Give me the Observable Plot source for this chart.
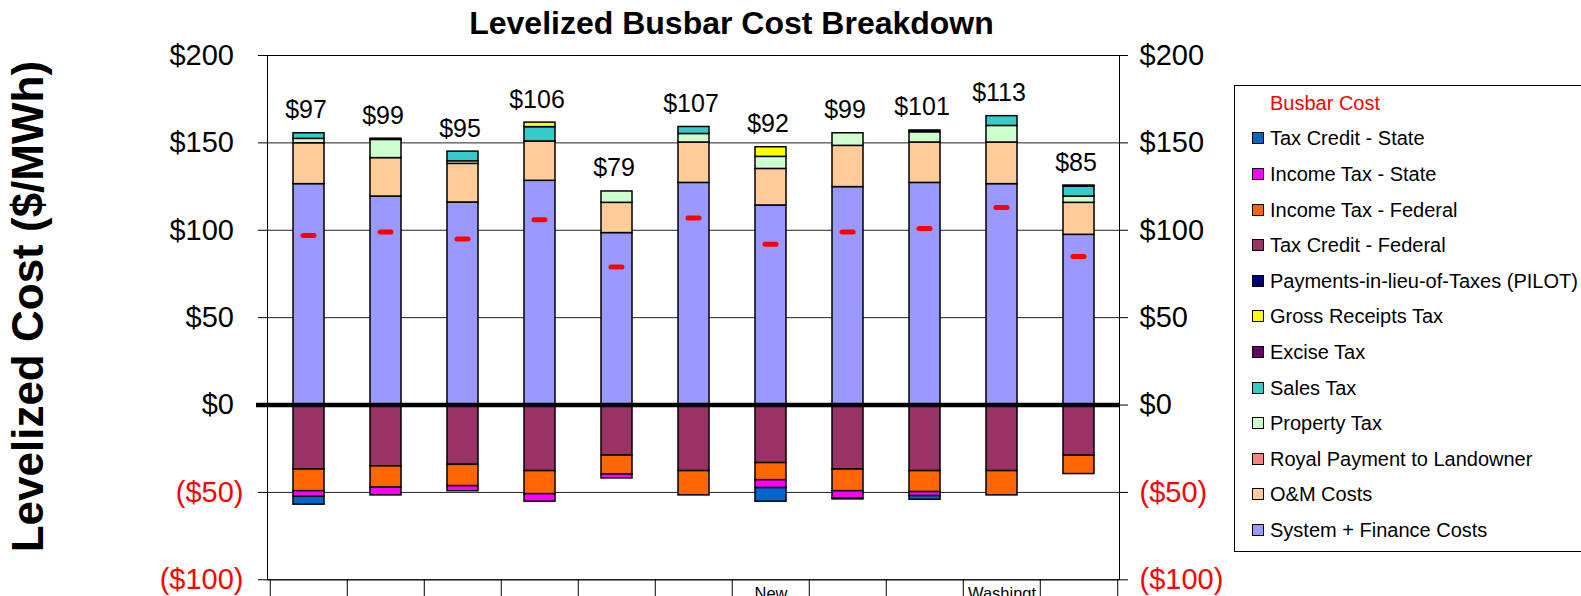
<!DOCTYPE html>
<html>
<head>
<meta charset="utf-8">
<script src="https://cdn.jsdelivr.net/npm/d3@7"></script>
<script src="https://cdn.jsdelivr.net/npm/@observablehq/plot@0.6"></script>
<style>
  html, body { margin: 0; padding: 0; background: #fff; overflow: hidden; }
  body { font-family: "Liberation Sans", Arial, sans-serif; }
  #wrap { position: relative; width: 1581px; height: 596px; overflow: hidden; }
  #legend { position: absolute; left: 1234px; top: 85px; width: 420px; height: 467px;
            border: 1px solid #000; box-sizing: border-box; background: #fff; }
  .row { position: absolute; left: 0; height: 22px; line-height: 22px; font-size: 20px; color: #000; white-space: nowrap; }
  .sw { position: absolute; left: 17px; top: 5px; width: 10px; height: 10px; border: 1px solid #000; }
  .lbl { position: absolute; left: 35px; top: 0; }
</style>
</head>
<body>
<div id="wrap"><div id="chart"></div><div id="legend"></div></div>
<script>
// ---------- data ----------
const categories = ["California", "Colorado", "Iowa", "Kansas", "Minnesota", "Nevada",
                    "New Mexico", "Oklahoma", "Oregon", "Washington", "Wyoming"];
const tickLabels = ["California", "Colorado", "Iowa", "Kansas", "Minnesota", "Nevada",
                    "New\nMexico", "Oklahoma", "Oregon", "Washingt\non", "Wyoming"];
const busbarCost = [97, 99, 95, 106, 79, 107, 92, 99, 101, 113, 85];

const systemFinance    = [126.4, 119.3, 115.9, 128.3, 98.4, 127.1, 114.2, 124.7, 127.1, 126.4, 97.4];
const omCosts          = [23.4, 22.0, 22.1, 22.5, 17.3, 23.1, 20.9, 23.6, 23.1, 23.8, 18.3];
const royalPayment     = [0, 0, 0, 0, 0, 0, 0, 0, 0, 0, 0];
const propertyTax      = [2.5, 10.4, 1.5, 0, 6.5, 4.9, 6.9, 7.2, 5.9, 9.5, 3.6];
const salesTax         = [3.2, 0, 5.5, 8.2, 0, 4.0, 0, 0, 0, 5.6, 5.6];
const exciseTax        = [0, 0, 0, 0, 0, 0, 0, 0, 0, 0, 0];
const grossReceiptsTax = [0, 0, 0, 2.6, 0, 0, 5.5, 0, 0, 0, 0];
const pilot            = [0, 0.7, 0, 0, 0, 0, 0, 0, 1.0, 0, 0.7];
const taxCreditFederal = [-36.9, -35.1, -34.2, -37.8, -28.9, -37.8, -33.2, -36.9, -37.8, -37.8, -29.0];
const incomeTaxFederal = [-12.4, -12.2, -12.2, -13.2, -10.8, -13.9, -9.8, -12.4, -12.0, -13.9, -10.5];
const incomeTaxState   = [-3.2, -4.4, -2.9, -4.3, -2.3, 0, -4.5, -4.1, -2.3, 0, 0];
const taxCreditState   = [-4.5, 0, 0, 0, 0, 0, -7.8, -0.6, -2.1, 0, 0];

// stacking order (bottom to top / zero outward)
const seriesNames = ["System + Finance Costs", "O&M Costs", "Royal Payment to Landowner", "Property Tax",
  "Sales Tax", "Excise Tax", "Gross Receipts Tax", "Payments-in-lieu-of-Taxes (PILOT)",
  "Tax Credit - Federal", "Income Tax - Federal", "Income Tax - State", "Tax Credit - State"];
const seriesColors = ["#9999FF", "#FFCC99", "#FF8080", "#CCFFCC", "#33CCCC", "#660066", "#FFFF00", "#000080",
  "#993366", "#FF6600", "#FF00FF", "#0066CC"];
const seriesValues = [systemFinance, omCosts, royalPayment, propertyTax, salesTax, exciseTax,
  grossReceiptsTax, pilot, taxCreditFederal, incomeTaxFederal, incomeTaxState, taxCreditState];

const posTicks = [0, 50, 100, 150, 200];
const negTicks = [-50, -100];

// ---------- build ----------
const rows = [];
seriesNames.forEach((s, k) => {
  categories.forEach((c, i) => {
    const v = seriesValues[k][i];
    if (v !== 0) rows.push({category: c, series: s, value: v, color: seriesColors[k]});
  });
});
const posTotal = categories.map((c, i) => d3.sum(seriesValues, arr => Math.max(0, arr[i])));

const W = 1581, H = 596, ML = 267, MR = 462, MT = 55, MB = 596 - 579.3;
const step = (W - ML - MR) / categories.length;
const font = "'Liberation Sans', Arial, sans-serif";
const fmt = d => d < 0 ? `($${-d})` : `$${d}`;

const chart = Plot.plot({
  width: W, height: H,
  marginLeft: ML, marginRight: MR, marginTop: MT, marginBottom: MB,
  style: {fontFamily: font, background: "white", color: "#000"},
  x: {domain: categories, paddingInner: 0.6, paddingOuter: 0.3, axis: null},
  y: {domain: [-100, 200], axis: null},
  color: {type: "identity"},
  marks: [
    Plot.gridY([...negTicks, ...posTicks], {stroke: "#222", strokeOpacity: 1}),
    Plot.axisY(posTicks, {anchor: "left", tickSize: 9, tickPadding: 24.5, fontSize: 29, tickFormat: fmt, label: null, fill: "#000"}),
    Plot.axisY(negTicks, {anchor: "left", tickSize: 9, tickPadding: 15, fontSize: 29, tickFormat: fmt, label: null, fill: "#FF0000"}),
    Plot.axisY(posTicks, {anchor: "right", tickSize: 8, tickPadding: 12, fontSize: 29, tickFormat: fmt, label: null, fill: "#000"}),
    Plot.axisY(negTicks, {anchor: "right", tickSize: 8, tickPadding: 12, fontSize: 29, tickFormat: fmt, label: null, fill: "#FF0000"}),
    Plot.axisX({anchor: "bottom", tickSize: 0, tickPadding: 23, fontSize: 16.5, lineAnchor: "middle", lineHeight: 1.15,
                tickFormat: d => tickLabels[categories.indexOf(d)], label: null, fill: "#000"}),
    Plot.ruleX(categories, {x: d => d, dx: -step / 2, y1: -100, y2: -115, stroke: "#000"}),
    Plot.ruleX([categories[categories.length - 1]], {x: d => d, dx: step / 2, y1: -100, y2: -115, stroke: "#000"}),
    Plot.frame({stroke: "#000"}),
    Plot.barY(rows, {x: "category", y: "value", fill: "color", stroke: "#000", strokeWidth: 1.5}),
    Plot.ruleY([0], {stroke: "#000", strokeWidth: 4.5, insetLeft: -11}),
    Plot.tickY(categories, {x: d => d, y: (d, i) => busbarCost[i], stroke: "#FF0000", strokeWidth: 5,
                            strokeLinecap: "round", insetLeft: 10, insetRight: 10}),
    Plot.text(categories, {x: d => d, y: (d, i) => posTotal[i], text: (d, i) => "$" + busbarCost[i],
                           lineAnchor: "bottom", dx: -3, dy: -15, fontSize: 25, fill: "#000"}),
    Plot.text(["Levelized Busbar Cost Breakdown"], {frameAnchor: "top", textAnchor: "middle", lineAnchor: "bottom",
                           dx: 38, dy: -22, fontSize: 32, fontWeight: "bold", fill: "#000"}),
    Plot.text(["Levelized Cost ($/MWh)"], {frameAnchor: "left", textAnchor: "middle", lineAnchor: "middle",
                           rotate: -90, dx: -238.5, dy: -11, fontSize: 44, fontWeight: "bold", fill: "#000"})
  ]
});
document.getElementById("chart").appendChild(chart);

// ---------- legend ----------
const legend = document.getElementById("legend");
const title = document.createElement("div");
title.className = "row";
title.style.top = (103.3 - 86 - 11) + "px";
title.style.color = "#FF0000";
title.innerHTML = '<span class="lbl">Busbar Cost</span>';
legend.appendChild(title);
const legendOrder = seriesNames.map((s, k) => k).reverse();
legendOrder.forEach((k, j) => {
  const r = document.createElement("div");
  r.className = "row";
  r.style.top = (138.3 + 35.6 * j - 86 - 11) + "px";
  const sw = document.createElement("span");
  sw.className = "sw";
  sw.style.background = seriesColors[k];
  const t = document.createElement("span");
  t.className = "lbl";
  t.textContent = seriesNames[k];
  r.appendChild(sw); r.appendChild(t);
  legend.appendChild(r);
});
</script>
</body>
</html>
